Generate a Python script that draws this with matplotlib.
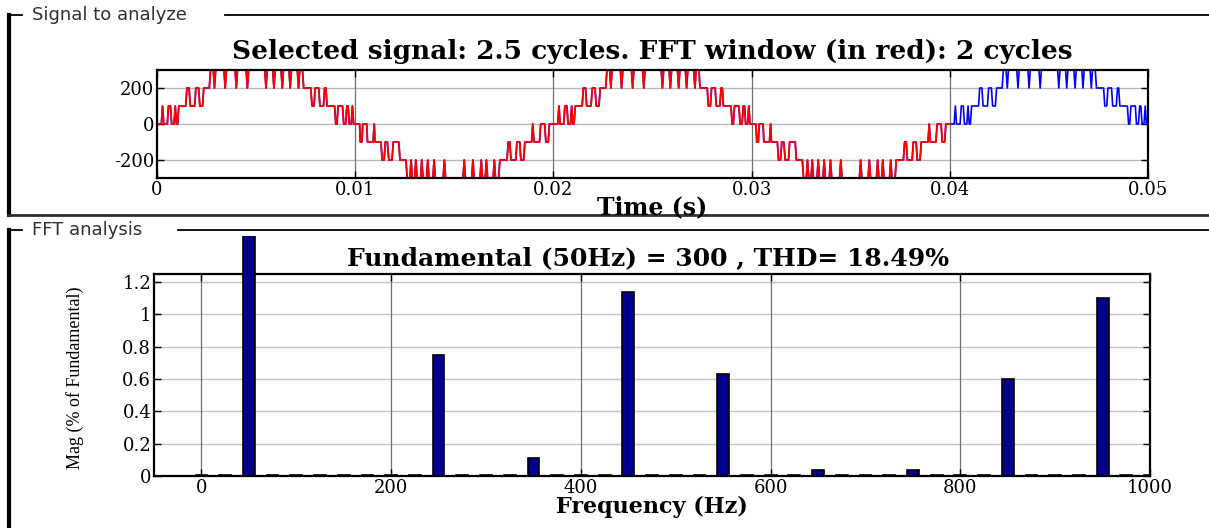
import matplotlib
matplotlib.use("Agg")
import matplotlib.pyplot as plt
from matplotlib.lines import Line2D
from matplotlib.transforms import Bbox, TransformedBbox

# Waveform: vertices (time in ms, level) of one positive
# and one negative half cycle; the signal repeats these for 2.5 cycles
pos_half_t = [0.00, 0.22, 0.28, 0.34, 0.52, 0.58, 0.68, 0.74, 0.86, 0.92, 0.98, 1.04, 1.10,
              1.45, 1.51, 1.62, 1.68, 1.90, 1.96, 2.10, 2.16, 2.30, 2.36,
              2.64, 2.70, 2.84, 2.90, 2.96, 3.38, 3.44, 3.50, 3.94, 4.00, 4.06, 4.50, 4.56, 4.62,
              5.44, 5.50, 5.56, 5.84, 5.90, 5.96, 6.26, 6.32, 6.38, 6.66, 6.72, 6.78,
              7.08, 7.14, 7.20, 7.34, 7.40,
              7.76, 7.82, 7.92, 7.98, 8.16, 8.22, 8.40, 8.46, 8.52, 8.58,
              8.96, 9.02, 9.08, 9.14, 9.36, 9.42, 9.52, 9.58, 9.64, 9.70, 9.80, 9.86, 9.92, 10.0]
pos_half_v = [0, 0, 100, 0, 0, 100, 100, 0, 0, 100, 0, 0, 100,
              100, 200, 200, 100, 100, 200, 200, 100, 100, 200,
              200, 300, 300, 200, 300, 300, 200, 300, 300, 200, 300, 300, 200, 300,
              300, 200, 300, 300, 200, 300, 300, 200, 300, 300, 200, 300,
              300, 200, 300, 300, 200,
              200, 100, 100, 200, 200, 100, 100, 200, 200, 100,
              100, 0, 0, 100, 100, 0, 0, 100, 100, 0, 0, 100, 0, 0]

neg_half_t = [0.00, 0.22, 0.26, 0.34, 0.38, 0.58, 0.62, 0.90, 0.96, 1.00,
              1.30, 1.36, 1.46, 1.52, 1.62, 1.70, 1.86, 1.92, 2.20, 2.26,
              2.56, 2.62, 2.76, 2.82, 2.88, 3.00, 3.06, 3.12, 3.30, 3.36, 3.42, 3.60, 3.66, 3.72,
              3.92, 3.98, 4.04, 4.44, 4.50, 4.56,
              5.44, 5.50, 5.56, 5.88, 5.94, 6.00, 6.30, 6.36, 6.42, 6.56, 6.62, 6.68,
              6.96, 7.02, 7.08, 7.24, 7.30,
              7.66, 7.72, 7.80, 7.86, 8.10, 8.16, 8.30, 8.36, 8.50, 8.56,
              8.90, 8.96, 9.02, 9.30, 9.36, 9.56, 9.62, 9.74, 9.80, 10.0]
neg_half_v = [0, 0, -100, -100, 0, 0, -100, -100, 0, -100,
              -100, -200, -200, -100, -100, -200, -200, -100, -100, -200,
              -200, -300, -300, -200, -300, -300, -200, -300, -300, -200, -300, -300, -200, -300,
              -300, -200, -300, -300, -200, -300,
              -300, -200, -300, -300, -200, -300, -300, -200, -300, -300, -200, -300,
              -300, -200, -300, -300, -200,
              -200, -100, -100, -200, -200, -100, -100, -200, -200, -100,
              -100, 0, -100, -100, 0, 0, -100, -100, 0, 0]

n_halves = 5          # 2.5 cycles selected
n_window_halves = 4   # 2 cycles in the FFT window

# Harmonic spectrum (% of fundamental), 25 Hz bins; the rest sit just above zero
freqs = list(range(0, 1001, 25))
mags = {50: 100.0, 250: 0.75, 350: 0.11, 450: 1.14, 550: 0.63,
        650: 0.035, 750: 0.035, 850: 0.60, 950: 1.10}
mag_values = [mags.get(f, 0.006) for f in freqs]

title_top = "Selected signal: 2.5 cycles. FFT window (in red): 2 cycles"
title_bottom = "Fundamental (50Hz) = 300 , THD= 18.49%"

W, H = 1209, 528
plt.rcParams['font.family'] = 'DejaVu Serif'
plt.rcParams['axes.unicode_minus'] = False
fig = plt.figure(figsize=(W / 100, H / 100), dpi=100)


def fx(px):
    return px / W


def fy(py):
    return 1 - py / H


# build the signal
sig_t, sig_v = [], []
win_t, win_v = [], []
for k in range(n_halves):
    ts, vs = (pos_half_t, pos_half_v) if k % 2 == 0 else (neg_half_t, neg_half_v)
    for t, v in zip(ts, vs):
        tt = (t + 10 * k) / 1000.0
        sig_t.append(tt)
        sig_v.append(v)
        if k < n_window_halves:
            win_t.append(tt)
            win_v.append(v)

# ---- top axes: signal
ax1 = fig.add_axes([fx(157), fy(178), fx(1148) - fx(157), fy(70) - fy(178)])
ax1.plot(sig_t, sig_v, color='#0000ff', lw=1.2)
ax1.plot(win_t, win_v, color='#ff0000', lw=1.3)
ax1.set_xlim(0, 0.05)
ax1.set_ylim(-300, 300)
ax1.set_yticks([-200, 0, 200])
ax1.set_xticks([0, 0.01, 0.02, 0.03, 0.04, 0.05])
ax1.set_xticklabels(['0', '0.01', '0.02', '0.03', '0.04', '0.05'])
for y in [-200, 0, 200]:
    ax1.axhline(y, color='#b8b8b8', lw=1.0, zorder=0)
for x in [0.01, 0.02, 0.03, 0.04]:
    ax1.axvline(x, color='#707070', lw=0.9, zorder=0)

# ---- bottom axes: spectrum
ax2 = fig.add_axes([fx(154), fy(476), fx(1150) - fx(154), fy(274) - fy(476)])
bars = ax2.bar(freqs, mag_values, width=12.5, color='#00008c', edgecolor='black',
               lw=1.2, zorder=3)
ax2.set_xlim(-50, 1000)
ax2.set_ylim(0, 1.25)
ax2.set_xticks([0, 200, 400, 600, 800, 1000])
ax2.set_yticks([0, 0.2, 0.4, 0.6, 0.8, 1.0, 1.2])
ax2.set_yticklabels(['0', '0.2', '0.4', '0.6', '0.8', '1', '1.2'])
for y in [0.2, 0.4, 0.6, 0.8, 1.0, 1.2]:
    ax2.axhline(y, color='#c4c4c4', lw=1.0, zorder=0)
for x in [0, 200, 400, 600, 800]:
    ax2.axvline(x, color='#707070', lw=0.9, zorder=0)

# bars stay inside the x range; the fundamental runs up to the panel frame
clip = TransformedBbox(Bbox([[fx(154), 0], [fx(1150), fy(236)]]), fig.transFigure)
for b in bars:
    b.set_clip_path(None)
    b.set_clip_box(clip)

for ax in (ax1, ax2):
    for s in ax.spines.values():
        s.set_linewidth(1.6)
        s.set_color('black')
    ax.tick_params(direction='in', length=5, width=1, top=True, right=True,
                   labelsize=13, pad=2)

# titles and labels
fig.text(fx(652), fy(52), title_top, ha='center', va='center', fontsize=19, fontweight='bold')
fig.text(fx(652), fy(207), "Time (s)", ha='center', va='center', fontsize=17, fontweight='bold')
fig.text(fx(648), fy(258), title_bottom, ha='center', va='center', fontsize=18, fontweight='bold')
fig.text(fx(652), fy(507), "Frequency (Hz)", ha='center', va='center', fontsize=16, fontweight='bold')
fig.text(fx(75), fy(378), "Mag (% of Fundamental)", ha='center', va='center', rotation=90,
         fontsize=13, family='Liberation Serif')

# panel frames
def panel(y_top, y_bottom, label, label_end):
    fig.add_artist(Line2D([fx(8.5), fx(8.5)], [fy(y_top), fy(y_bottom)], color='black', lw=3))
    fig.add_artist(Line2D([fx(8), fx(22)], [fy(y_top), fy(y_top)], color='black', lw=1.3))
    fig.add_artist(Line2D([fx(label_end), fx(W)], [fy(y_top), fy(y_top)], color='black', lw=1.3))
    fig.text(fx(32), fy(y_top), label, ha='left', va='center', fontsize=13,
             family='DejaVu Sans', color='#303030')

panel(15, 215, "Signal to analyze", 225)
panel(230, 528, "FFT analysis", 178)
fig.add_artist(Line2D([fx(8), fx(W)], [fy(214.5), fy(214.5)], color='#303030', lw=2))

fig.savefig("out.png", dpi=100)
